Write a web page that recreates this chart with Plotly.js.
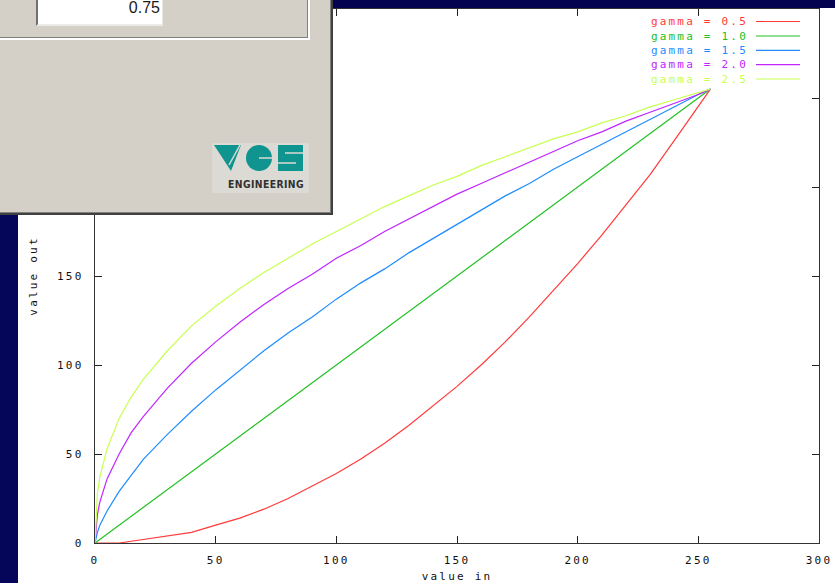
<!DOCTYPE html>
<html>
<head>
<meta charset="utf-8">
<script src="https://cdn.plot.ly/plotly-3.0.1.min.js"></script>
<style>
  html, body { margin: 0; padding: 0; width: 835px; height: 583px; overflow: hidden; background: #fff; }
  #plot { position: absolute; left: 0; top: 0; width: 835px; height: 583px; }
  #plot .main-svg text { letter-spacing: 2.2px; }
  .ov { position: absolute; }
</style>
</head>
<body>
<div id="plot"></div>

<!-- desktop strips and overlapping dialog window -->
<div class="ov" style="left:0;top:0;width:18px;height:583px;background:#05055a;"></div>
<div class="ov" style="left:330px;top:0;width:505px;height:8px;background:#03034f;"></div>
<div class="ov" style="left:0;top:0;width:333px;height:215px;background:#404040;"></div>
<div class="ov" style="left:0;top:0;width:331px;height:213px;background:#808080;"></div>
<div class="ov" style="left:0;top:0;width:330px;height:212px;background:#d4d0c8;"></div>
<div class="ov" style="left:0;top:37px;width:308px;height:1px;background:#808080;"></div>
<div class="ov" style="left:0;top:38px;width:309px;height:2px;background:#ffffff;"></div>
<div class="ov" style="left:307px;top:0;width:1px;height:38px;background:#808080;"></div>
<div class="ov" style="left:308px;top:0;width:2px;height:40px;background:#ffffff;"></div>
<div class="ov" style="left:36px;top:0;width:127px;height:26px;background:#ffffff;border-left:2px solid #707070;border-right:1px solid #e8e6e2;border-bottom:2px solid #ecebe8;box-sizing:border-box;"></div>
<div class="ov" style="left:40px;top:-3px;width:120px;height:22px;text-align:right;font-family:'Liberation Sans',Arial,sans-serif;font-size:16px;line-height:22px;color:#1a1a1a;">0.75</div>
<div class="ov" style="left:212px;top:143px;width:97px;height:50px;background:#dcdad5;"></div>
<svg class="ov" style="left:0;top:0;" width="333" height="215">
  <polygon points="214,145 241,145 231,171" fill="#10948f"/>
  <line x1="229" y1="165" x2="240" y2="145" stroke="#dcdad5" stroke-width="1.5"/>
  <circle cx="259" cy="158" r="13" fill="#10948f"/>
  <line x1="259" y1="158" x2="273" y2="158" stroke="#dcdad5" stroke-width="1.5"/>
  <rect x="278" y="145" width="25" height="26" fill="#10948f"/>
  <line x1="285" y1="153" x2="303" y2="153" stroke="#dcdad5" stroke-width="1.5"/>
  <line x1="278" y1="163" x2="296" y2="163" stroke="#dcdad5" stroke-width="1.5"/>
  <text x="304" y="188" text-anchor="end" font-family="'DejaVu Sans Condensed','DejaVu Sans',sans-serif" font-weight="bold" font-size="10" fill="#303030" letter-spacing="0.4" textLength="76" lengthAdjust="spacingAndGlyphs">ENGINEERING</text>
</svg>

<script>
// ---- data ----
const valueIn = [0, 1, 2, 5, 10, 15, 20, 30, 40, 50, 60, 70, 80, 90, 100, 110, 120, 130, 140, 150,
                 160, 170, 180, 190, 200, 210, 220, 230, 240, 250, 255];
const outGamma05 = [0, 0, 0, 0, 0, 1, 2, 4, 6, 10, 14, 19, 25, 32, 39, 47, 56, 66, 77, 88,
                    100, 113, 127, 142, 157, 173, 190, 207, 226, 245, 255];
const outGamma10 = [0, 1, 2, 5, 10, 15, 20, 30, 40, 50, 60, 70, 80, 90, 100, 110, 120, 130, 140, 150,
                    160, 170, 180, 190, 200, 210, 220, 230, 240, 250, 255];
const outGamma15 = [0, 6, 10, 18, 29, 38, 47, 61, 74, 86, 97, 108, 118, 127, 137, 146, 154, 163, 171, 179,
                    187, 195, 202, 210, 217, 224, 231, 238, 245, 252, 255];
const outGamma20 = [0, 16, 23, 36, 50, 62, 71, 87, 101, 113, 124, 134, 143, 151, 160, 167, 175, 182, 189, 196,
                    202, 208, 214, 220, 226, 231, 237, 242, 247, 252, 255];
const outGamma25 = [0, 28, 37, 53, 70, 82, 92, 108, 122, 133, 143, 152, 160, 168, 175, 182, 189, 195, 201, 206,
                    212, 217, 222, 227, 231, 236, 240, 245, 249, 253, 255];
const seriesNames = ['gamma = 0.5', 'gamma = 1.0', 'gamma = 1.5', 'gamma = 2.0', 'gamma = 2.5'];
const seriesColors = ['#ff3a3a', '#22c022', '#1e8cff', '#c024ff', '#c8ff50'];
const xTicks = [0, 50, 100, 150, 200, 250, 300];
const yTicks = [0, 50, 100, 150, 200, 250, 300];

const seriesValues = [outGamma05, outGamma10, outGamma15, outGamma20, outGamma25];

// plot area in pixels
const L = 95, R = 819, T = 9, B = 543;
const W = 835, H = 583;
const px2x = p => (p - L) / (R - L);
const px2y = p => (B - p) / (B - T);

const traces = seriesValues.map((vals, i) => ({
  x: valueIn, y: vals, type: 'scatter', mode: 'lines', name: seriesNames[i],
  line: { color: seriesColors[i], width: 1.2 }, showlegend: false, hoverinfo: 'skip'
}));

const monoFont = { family: 'DejaVu Sans Mono, monospace', size: 11, color: '#111' };

const legendRows = [21.5, 36, 50.3, 64.6, 79];
const annotations = seriesNames.map((n, i) => ({
  xref: 'paper', yref: 'paper', x: px2x(738), y: px2y(legendRows[i]),
  xanchor: 'right', yanchor: 'middle', showarrow: false, text: n,
  font: { family: 'DejaVu Sans Mono, monospace', size: 11, color: seriesColors[i] }
}));
const shapes = seriesNames.map((n, i) => ({
  type: 'line', xref: 'paper', yref: 'paper',
  x0: px2x(756), x1: px2x(800), y0: px2y(legendRows[i]), y1: px2y(legendRows[i]),
  line: { color: seriesColors[i], width: 1.2 }
}));

const axisCommon = {
  range: [0, 300], ticks: 'inside', ticklen: 7, tickwidth: 1, tickcolor: '#222',
  showline: true, linecolor: '#333', linewidth: 1.3, mirror: 'ticks',
  showgrid: false, zeroline: false, tickfont: monoFont, fixedrange: true
};

const layout = {
  width: W, height: H,
  margin: { l: L, r: W - R, t: T, b: H - B, pad: 0 },
  paper_bgcolor: '#ffffff', plot_bgcolor: '#ffffff',
  xaxis: Object.assign({}, axisCommon, {
    tickmode: 'array', tickvals: xTicks, ticktext: xTicks.map(String), ticklabelstandoff: 6,
    title: { text: 'value in', font: monoFont, standoff: 7 }
  }),
  yaxis: Object.assign({}, axisCommon, {
    tickmode: 'array', tickvals: yTicks, ticktext: yTicks.map(String), ticklabelstandoff: 8,
    title: { text: 'value out', font: monoFont, standoff: 23 }
  }),
  annotations: annotations,
  shapes: shapes,
  showlegend: false
};

Plotly.newPlot('plot', traces, layout, { displayModeBar: false, staticPlot: true });
</script>
</body>
</html>
